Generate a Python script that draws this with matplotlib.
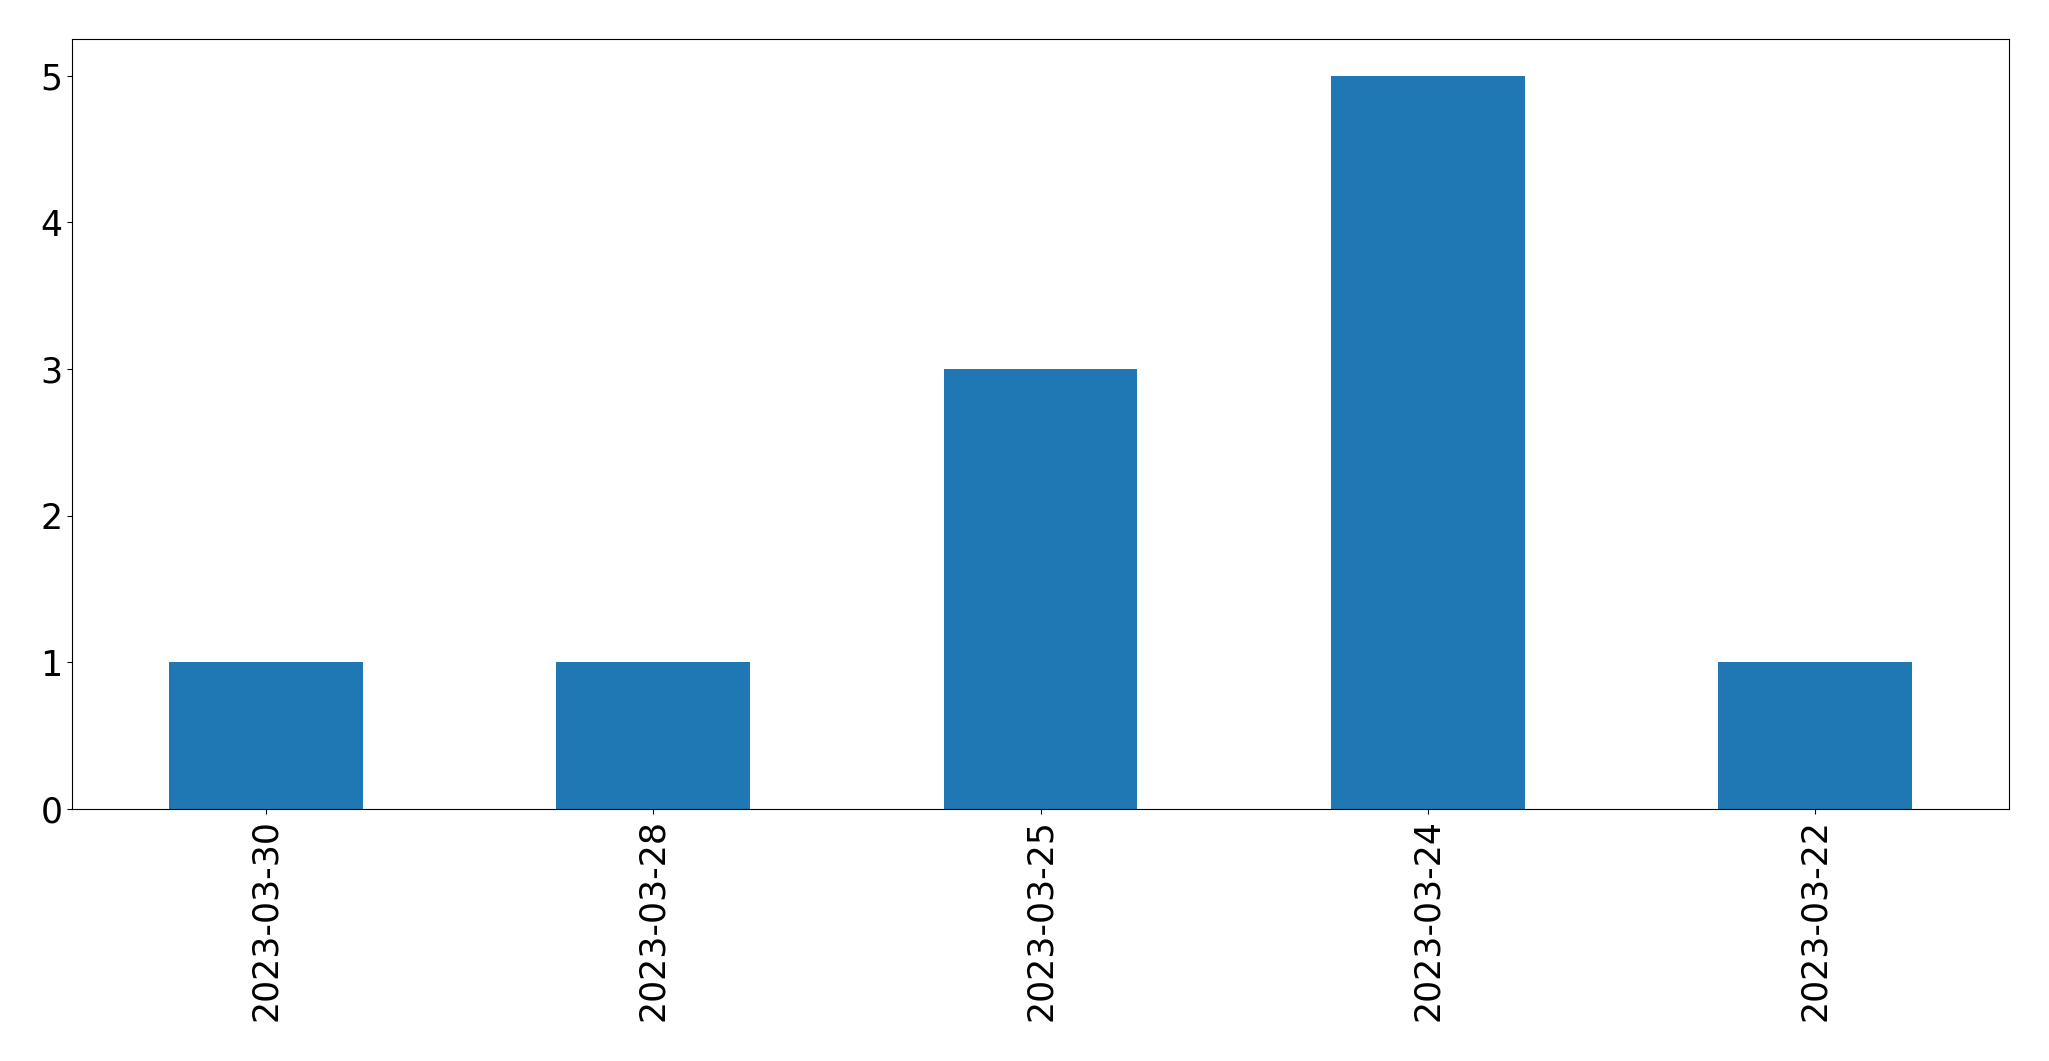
import matplotlib
matplotlib.use("Agg")
import matplotlib.pyplot as plt
import pandas as pd

# counts per date, in the order shown
dates = ["2023-03-30", "2023-03-28", "2023-03-25", "2023-03-24", "2023-03-22"]
counts = [1, 1, 3, 5, 1]

s = pd.Series(counts, index=dates)

fig = plt.figure(figsize=(20.49, 10.61), dpi=100)
ax = fig.add_axes([72 / 2049, 1 - 809 / 1061, (2009 - 72) / 2049, (809 - 39) / 1061])
s.plot(kind="bar", ax=ax, color="#1f77b4")
ax.tick_params(axis="both", labelsize=25)
ax.set_xticklabels(dates, rotation=90)

fig.savefig("out.png", dpi=100)
